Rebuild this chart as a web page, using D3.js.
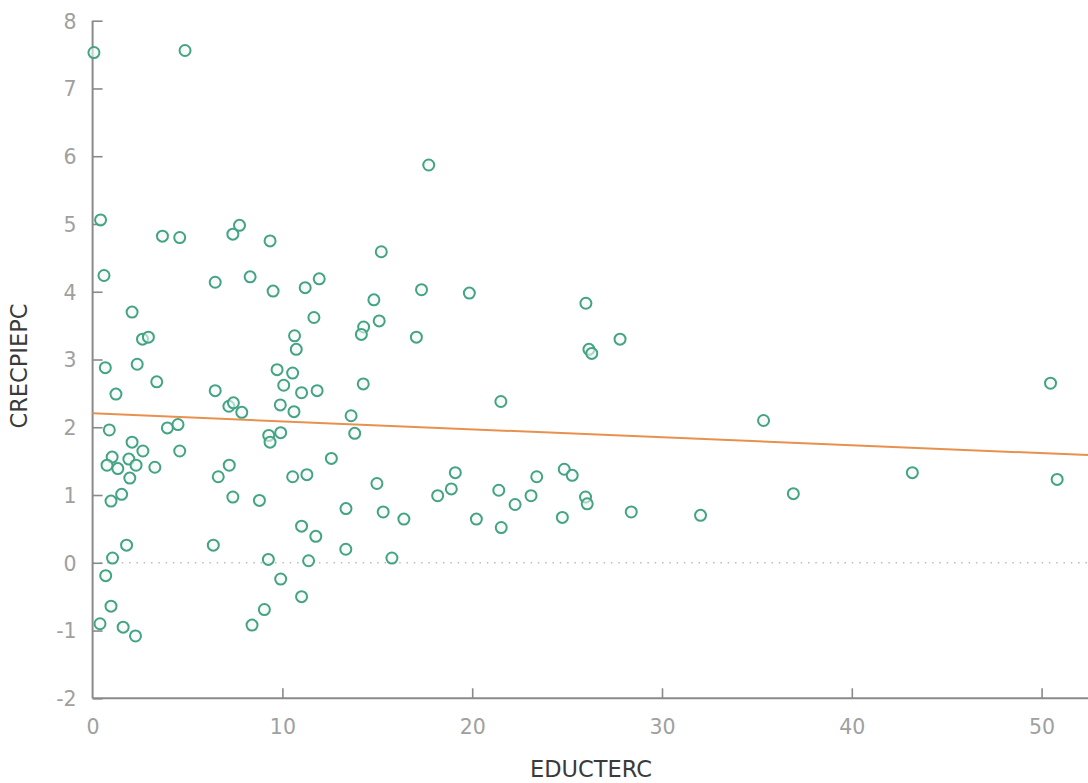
<!DOCTYPE html>
<html>
<head>
<meta charset="utf-8">
<script src="https://cdn.jsdelivr.net/npm/d3@7"></script>
<style>
  html, body { margin: 0; padding: 0; background: #fff; }
  svg { display: block; }
  svg text { font-family: "DejaVu Sans", Verdana, sans-serif; }
</style>
</head>
<body>
<svg id="chart" width="1088" height="783"></svg>
<script>
// Observations: tertiary education (x) vs. per-capita growth (y)
const educterc = [
  0.07, 4.87, 0.42, 3.68, 4.59, 7.39, 7.74, 9.35, 17.71, 15.21,
  0.60, 6.46, 8.30, 9.51, 11.20, 11.94, 14.82, 17.33, 19.85, 2.08,
  2.63, 2.94, 11.66, 14.28, 14.16, 15.10, 17.06, 10.64, 10.73, 0.67,
  2.35, 3.38, 1.23, 6.46, 7.18, 7.42, 7.86, 9.72, 10.07, 10.54,
  9.89, 10.61, 11.01, 11.83, 14.26, 21.51, 13.62, 13.81, 0.88, 3.94,
  4.50, 2.08, 4.59, 1.03, 1.91, 2.65, 0.76, 1.33, 2.29, 3.28,
  9.28, 9.91, 9.35, 6.62, 7.20, 10.54, 12.58, 11.29, 19.11, 23.40,
  24.85, 25.27, 1.96, 1.53, 0.97, 1.79, 1.05, 0.69, 0.97, 0.39,
  1.61, 2.26, 7.39, 8.79, 6.36, 9.26, 9.91, 9.05, 8.40, 14.98,
  18.90, 18.18, 21.40, 22.26, 23.10, 24.75, 13.35, 15.31, 16.40, 20.22,
  21.53, 11.01, 11.76, 13.34, 11.38, 15.77, 11.01, 25.99, 26.15, 26.30,
  27.79, 50.47, 35.35, 25.97, 26.06, 28.38, 32.03, 36.92, 43.19, 50.82
];
const crecpiepc = [
  7.53, 7.56, 5.06, 4.82, 4.80, 4.85, 4.98, 4.75, 5.87, 4.59,
  4.24, 4.14, 4.22, 4.01, 4.06, 4.19, 3.88, 4.03, 3.98, 3.70,
  3.30, 3.33, 3.62, 3.48, 3.37, 3.57, 3.33, 3.35, 3.15, 2.88,
  2.93, 2.67, 2.49, 2.54, 2.31, 2.36, 2.22, 2.85, 2.62, 2.80,
  2.33, 2.23, 2.51, 2.54, 2.64, 2.38, 2.17, 1.91, 1.96, 1.99,
  2.04, 1.78, 1.65, 1.56, 1.53, 1.65, 1.44, 1.39, 1.44, 1.41,
  1.88, 1.92, 1.78, 1.27, 1.44, 1.27, 1.54, 1.30, 1.33, 1.27,
  1.38, 1.29, 1.25, 1.01, 0.91, 0.26, 0.07, -0.19, -0.64, -0.90,
  -0.95, -1.08, 0.97, 0.92, 0.26, 0.05, -0.24, -0.69, -0.92, 1.17,
  1.09, 0.99, 1.07, 0.86, 0.99, 0.67, 0.80, 0.75, 0.645, 0.645,
  0.52, 0.54, 0.39, 0.20, 0.03, 0.07, -0.50, 3.83, 3.15, 3.09,
  3.30, 2.65, 2.10, 0.97, 0.87, 0.75, 0.70, 1.02, 1.33, 1.23
];

// Fitted least-squares line: y = a + b·x
const fitIntercept = 2.205;
const fitSlope = -0.01175;

const xTicks = [0, 10, 20, 30, 40, 50];
const yTicks = [-2, -1, 0, 1, 2, 3, 4, 5, 6, 7, 8];
const xTitle = "EDUCTERC";
const yTitle = "CRECPIEPC";

const FONT = "DejaVu Sans, Verdana, sans-serif";
const svg = d3.select("#chart");
const W = 1088;

const x = d3.scaleLinear().domain([0, 55]).range([92.6, 92.6 + 55 * 18.98]);
const y = d3.scaleLinear().domain([-2, 8]).range([698.3, 20.7]);

const axisColor = "#8a8a8a";
const labelColor = "#a0a0a0";

// Dotted reference line at zero
svg.append("line")
  .attr("x1", x(0)).attr("x2", W)
  .attr("y1", y(0)).attr("y2", y(0))
  .attr("stroke", "#bdbdbd")
  .attr("stroke-width", 1.4)
  .attr("stroke-dasharray", "1.5,5.8");

// Y axis: ticks point inward
const yAxis = d3.axisRight(y).tickValues(yTicks).tickSize(10).tickFormat(d3.format("d"));
const gy = svg.append("g").attr("transform", `translate(${x(0)},0)`).call(yAxis)
  .attr("font-family", FONT);
gy.select(".domain").attr("stroke", axisColor).attr("stroke-width", 2)
  .attr("d", `M0,${y(8)}V${y(-2)}`);
gy.selectAll(".tick line").attr("stroke", axisColor).attr("stroke-width", 1.6);
gy.selectAll(".tick text")
  .attr("x", -16).attr("text-anchor", "end").attr("dy", "0.36em")
  .attr("fill", labelColor).attr("font-size", 20.5)
  .text(d => d < 0 ? "-" + Math.abs(d) : d);

// X axis: ticks point upward
const xAxis = d3.axisTop(x).tickValues(xTicks).tickSize(10).tickFormat(d3.format("d"));
const gx = svg.append("g").attr("transform", `translate(0,${y(-2)})`).call(xAxis)
  .attr("font-family", FONT);
gx.select(".domain").attr("stroke", axisColor).attr("stroke-width", 2)
  .attr("d", `M${x(0)},0H${W}`);
gx.selectAll(".tick line").attr("stroke", axisColor).attr("stroke-width", 1.6);
gx.selectAll(".tick text")
  .attr("y", 36).attr("dy", 0).attr("text-anchor", "middle")
  .attr("fill", labelColor).attr("font-size", 20.5);
gx.selectAll(".tick").filter(d => d === 0).select("line").remove();

// Axis titles
svg.append("text")
  .attr("x", 591).attr("y", 777)
  .attr("text-anchor", "middle")
  .attr("font-family", FONT)
  .attr("fill", "#3a3a3a").attr("font-size", 22.5)
  .text(xTitle);
svg.append("text")
  .attr("transform", "translate(27,366) rotate(-90)")
  .attr("text-anchor", "middle")
  .attr("font-family", FONT)
  .attr("fill", "#3a3a3a").attr("font-size", 22.5)
  .text(yTitle);

// Regression line
const fit = d => fitIntercept + fitSlope * d;
svg.append("line")
  .attr("x1", x(0)).attr("y1", y(fit(0)))
  .attr("x2", x(x.invert(W))).attr("y2", y(fit(x.invert(W))))
  .attr("stroke", "#e8914f")
  .attr("stroke-width", 2);

// Scatter points
const pts = educterc.map((v, i) => ({ x: v, y: crecpiepc[i] }));
svg.append("g").selectAll("circle")
  .data(pts)
  .join("circle")
  .attr("cx", d => x(d.x))
  .attr("cy", d => y(d.y))
  .attr("r", 5.5)
  .attr("fill", "#f2faf7")
  .attr("fill-opacity", 0.6)
  .attr("stroke", "#45a385")
  .attr("stroke-width", 2);
</script>
</body>
</html>
